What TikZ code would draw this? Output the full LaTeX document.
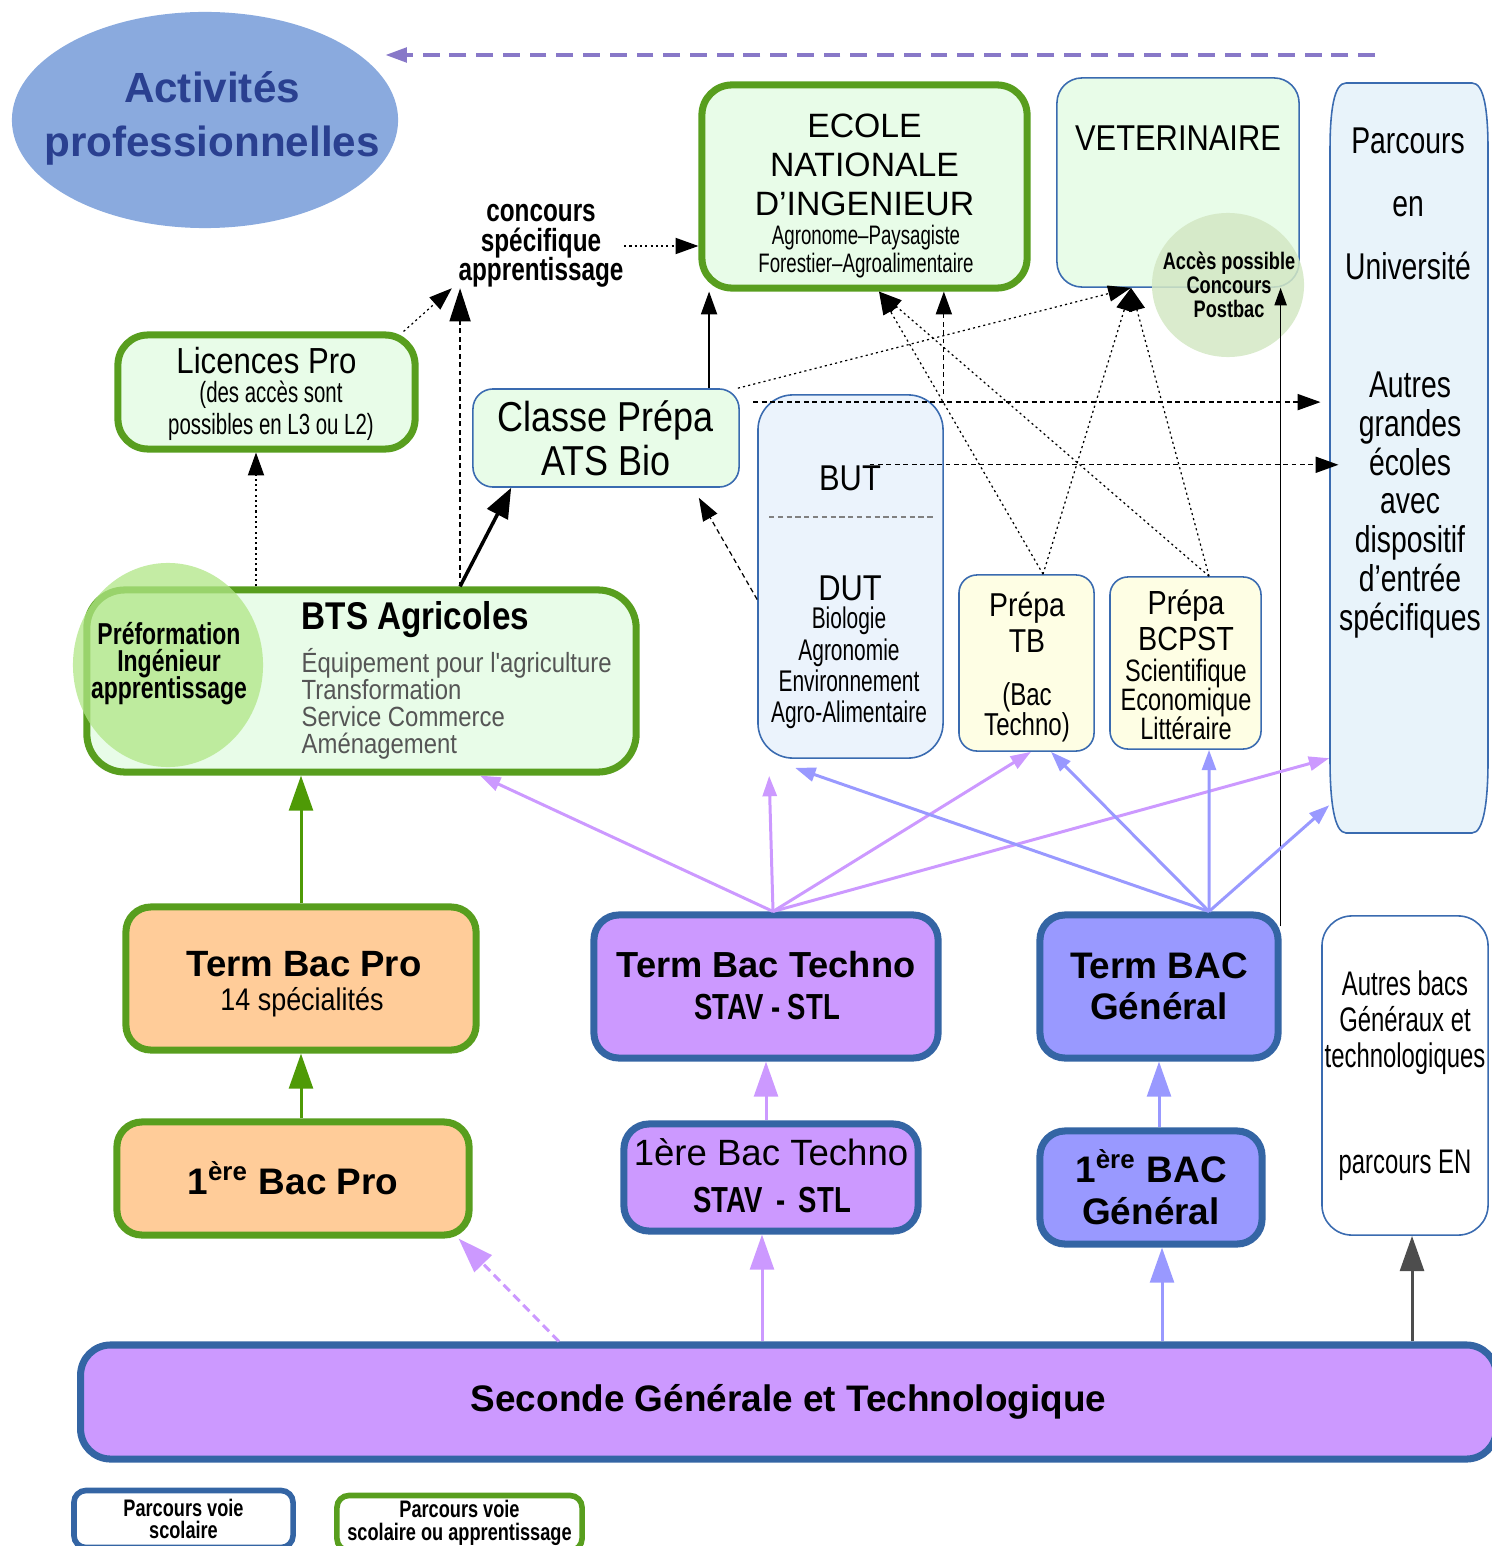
\documentclass[tikz,border=0pt]{standalone}
\usepackage{fontspec}
\setmainfont{Liberation Sans}
\newfontfamily\condA{Liberation Sans}[FakeStretch=0.86]
\newfontfamily\condB{Liberation Sans}[FakeStretch=0.76]
\newfontfamily\condC{Liberation Sans}[FakeStretch=0.70]
\usepackage{xcolor}
\usetikzlibrary{arrows.meta,shapes.geometric}

\definecolor{actfill}{HTML}{8AAADE}
\definecolor{acttext}{HTML}{2A4090}
\definecolor{topdash}{HTML}{8878C8}
\definecolor{grnbd}{HTML}{589E1E}
\definecolor{grnfill}{HTML}{E8FCE8}
\definecolor{bluebd}{HTML}{3465A4}
\definecolor{thinbd}{HTML}{3A6BB0}
\definecolor{butfill}{HTML}{EBF3FC}
\definecolor{univfill}{HTML}{E8F3FA}
\definecolor{prepfill}{HTML}{FEFEE4}
\definecolor{accfill}{HTML}{D4E8C4}
\definecolor{preffill}{HTML}{B0E686}
\definecolor{peach}{HTML}{FFCC99}
\definecolor{lilac}{HTML}{CC99FF}
\definecolor{peri}{HTML}{9999FF}
\definecolor{grnarrow}{HTML}{4E9A06}
\definecolor{darkgray}{HTML}{4D4D4D}
\definecolor{listgray}{HTML}{555555}

\newcommand\fsz[2]{\fontsize{#1}{#2}\selectfont\lineskiplimit=-20pt\relax}

\begin{document}
\begin{tikzpicture}[x=0.01cm, y=-0.01cm,
  box/.style={inner sep=0pt, align=center},
  greenbox/.style={box, draw=grnbd, line width=2pt, fill=grnfill, rounded corners=0.3cm},
  bluebox/.style={box, draw=bluebd, line width=2pt, rounded corners=0.25cm},
  thinbox/.style={box, draw=thinbd, line width=0.45pt, rounded corners=0.2cm},
  blob/.style={ellipse, inner sep=0pt},
  txt/.style={inner sep=0pt, align=center},
  dotarrow/.style={dash pattern=on 0.6pt off 0.9pt, line width=0.35pt, -{Triangle[length=6.5pt,width=4.6pt]}},
  dasharrow/.style={dash pattern=on 1.4pt off 1pt, line width=0.35pt, -{Triangle[length=6.5pt,width=4.6pt]}},
  bigtip/.style={-{Triangle[length=10pt,width=6.8pt]}},
  smalltip/.style={-{Triangle[length=5.8pt,width=4pt]}},
  techarrow/.style={lilac, line width=0.85pt, smalltip},
  genarrow/.style={peri, line width=0.85pt, smalltip},
  uparrow/.style={line width=0.85pt, bigtip},
]
\useasboundingbox (0,0) rectangle (1491,1546);

% upper part
\node[blob, fill=actfill, minimum width=3.86cm, minimum height=2.16cm] (act) at (205,120) {};
\node[txt, text=acttext, font=\bfseries\fsz{12}{15.4}] (acttxt) at (212,118) {Activités\\professionnelles};

\node[greenbox, minimum width=3.25cm, minimum height=2.03cm] (ecole) at (864.5,186.5) {};
\node[txt, font=\fsz{9.6}{11}] (ecoletxt) at (864.5,165) {ECOLE\\NATIONALE\\D’INGENIEUR};
\node[txt, font=\condC\fsz{7.6}{8}] (ecolesub) at (866,252) {Agronome–Paysagiste\\Forestier–Agroalimentaire};

\node[thinbox, fill=grnfill, minimum width=2.42cm, minimum height=2.09cm, rounded corners=0.25cm] (vet) at (1178,182.5) {};
\node[txt, font=\condA\fsz{10.2}{12}] (vettxt) at (1178,138) {VETERINAIRE};
\node[blob, fill=accfill, fill opacity=0.85, minimum width=1.52cm, minimum height=1.44cm] (acc) at (1228,285) {};
\node[txt, font=\condB\bfseries\fsz{6.8}{6.8}] (acctxt) at (1229,285) {Accès possible\\Concours\\Postbac};

% barrel shaped box, node kept for anchors
\draw[thinbd, fill=univfill, line width=0.45pt] (1346,83) -- (1472,83)
  .. controls (1484,83) and (1488,110) .. (1488,150) -- (1488,760)
  .. controls (1488,800) and (1484,833) .. (1472,833) -- (1346,833)
  .. controls (1334,833) and (1330,800) .. (1330,760) -- (1330,150)
  .. controls (1330,110) and (1334,83) .. (1346,83) -- cycle;
\node[box, minimum width=1.58cm, minimum height=7.5cm] (univ) at (1409,458) {};
\node[txt, font=\condB\fsz{10.6}{17.9}] (univtxt) at (1408,204) {Parcours\\en\\Université};
\node[txt, font=\condB\fsz{10.6}{11}] (autres) at (1410,505) {Autres\\grandes\\écoles\\avec\\dispositif\\d’entrée\\spécifiques};

\node[greenbox, minimum width=2.97cm, minimum height=1.14cm] (lic) at (266.5,392) {};
\node[txt, font=\condA\fsz{10.3}{12}] (lictitle) at (266.5,361) {Licences Pro};
\node[txt, font=\condC\fsz{8.3}{9.1}] (licnote) at (271,411) {(des accès sont\\possibles en L3 ou L2)};

\node[txt, font=\condB\bfseries\fsz{9.1}{8.4}] (conc) at (541,246) {concours\\spécifique\\apprentissage};

\node[thinbox, fill=grnfill, minimum width=2.66cm, minimum height=0.98cm, font=\condA\fsz{11.9}{12.5}] (ats) at (606,438) {Classe Prépa\\ATS Bio};

% middle part
\node[thinbox, fill=butfill, minimum width=1.85cm, minimum height=3.63cm, rounded corners=0.35cm] (but) at (850.5,576.5) {};
\node[txt, font=\condA\fsz{10.2}{12}] (butlbl) at (850,478) {BUT};
\draw[gray, dash pattern=on 1.5pt off 1pt, line width=0.3pt] (769,517) -- (936,517);
\node[txt, font=\condA\fsz{10.2}{12}] (dutlbl) at (850,588) {DUT};
\node[txt, font=\condC\fsz{8.5}{8.9}] (dutlist) at (849,668) {Biologie\\Agronomie\\Environnement\\Agro-Alimentaire};

\node[thinbox, fill=prepfill, minimum width=1.35cm, minimum height=1.76cm, rounded corners=0.18cm] (tb) at (1026.5,663) {};
\node[txt, font=\condA\fsz{9.4}{10.2}] (tbtxt) at (1027,622) {Prépa\\TB};
\node[txt, font=\condB\fsz{9}{8.5}] (tbnote) at (1027,712) {(Bac\\Techno)};

\node[thinbox, fill=prepfill, minimum width=1.51cm, minimum height=1.72cm, rounded corners=0.18cm] (bcpst) at (1185.5,663) {};
\node[txt, font=\condA\fsz{9.5}{10.2}] (bcpsttxt) at (1186,620) {Prépa\\BCPST};
\node[txt, font=\condB\fsz{8.8}{8.3}] (bcpstlist) at (1186,699.5) {Scientifique\\Economique\\Littéraire};

\node[greenbox, minimum width=5.49cm, minimum height=1.82cm, rounded corners=0.38cm] (bts) at (361.5,681) {};
\node[blob, fill=preffill, fill opacity=0.75, minimum width=1.9cm, minimum height=2.04cm] (pref) at (168,665) {};
\node[txt, font=\condB\bfseries\fsz{8.6}{7.7}] (preftxt) at (169,664) {Préformation\\Ingénieur\\apprentissage};
\node[txt, anchor=west, font=\condA\bfseries\fsz{11}{12}] (btstitle) at (301,620) {BTS Agricoles};
\node[txt, anchor=west, align=left, text=listgray, font=\condA\fsz{7.9}{7.7}] (btslist) at (301,703.5) {Équipement pour l'agriculture\\Transformation\\Service Commerce\\Aménagement};

% lower part
\node[greenbox, fill=peach, minimum width=3.5cm, minimum height=1.43cm, rounded corners=0.25cm] (termpro) at (301,978.5) {};
\node[txt, font=\bfseries\fsz{10.4}{12}] (termprotxt) at (304,964) {Term Bac Pro};
\node[txt, font=\condA\fsz{8.9}{10}] (termprosub) at (302,1002) {14 spécialités};
\node[greenbox, fill=peach, minimum width=3.52cm, minimum height=1.13cm, rounded corners=0.25cm, font=\bfseries\fsz{10.5}{12}] (prempro) at (293,1178.5) {1\textsuperscript{ère} Bac Pro};

\node[bluebox, fill=lilac, minimum width=3.44cm, minimum height=1.43cm] (termtech) at (766,986.5) {};
\node[txt, font=\bfseries\fsz{10.3}{12}] (termtechtxt) at (766,965) {Term Bac Techno};
\node[txt, font=\condB\bfseries\fsz{10.3}{12}] (termtechsub) at (767,1007) {STAV - STL};
\node[bluebox, fill=lilac, minimum width=2.94cm, minimum height=1.07cm] (premtech) at (771,1177.5) {};
\node[txt, font=\fsz{10.4}{12}] (premtechtxt) at (771,1152) {1ère Bac Techno};
\node[txt, font=\condB\bfseries\fsz{10.3}{12}] (premtechsub) at (772,1200) {STAV \,-\, STL};

\node[bluebox, fill=peri, minimum width=2.38cm, minimum height=1.43cm, font=\bfseries\fsz{10.5}{11.7}] (termgen) at (1159,986.5) {Term BAC\\Général};
\node[bluebox, fill=peri, minimum width=2.22cm, minimum height=1.13cm, font=\bfseries\fsz{10.5}{12}] (premgen) at (1151,1187.5) {1\textsuperscript{ère} BAC\\Général};

\node[thinbox, fill=white, minimum width=1.66cm, minimum height=3.19cm, rounded corners=0.3cm, font=\condC\fsz{9.7}{10.2}] (autresbacs) at (1405,1075.5) {Autres bacs\\Généraux et\\technologiques\\[20pt]parcours EN};

\node[bluebox, fill=lilac, minimum width=14.15cm, minimum height=1.14cm, rounded corners=0.3cm, font=\bfseries\fsz{10.5}{12}] (seconde) at (788.5,1402) {Seconde Générale et Technologique};

% legend
\node[bluebox, fill=white, line width=1.6pt, minimum width=2.19cm, minimum height=0.57cm, rounded corners=0.12cm, font=\condB\bfseries\fsz{6.8}{6.4}] (legscol) at (183.5,1519) {Parcours voie\\scolaire};
\node[greenbox, fill=white, line width=1.6pt, minimum width=2.45cm, minimum height=0.55cm, rounded corners=0.12cm, font=\condB\bfseries\fsz{6.8}{6.4}] (legapp) at (459.5,1523) {Parcours voie\\scolaire ou apprentissage};

% black connectors
\coordinate (topfrom) at (1375,55);
\coordinate (topto) at (385,55);
\draw[topdash, line width=1.3pt, dash pattern=on 4.8pt off 2.8pt, -{Triangle[length=6.2pt,width=4pt]}] (topfrom) -- (topto);

\draw[dotarrow] (conc.east) -- (conc.east -| ecole.west);
\draw[dotarrow] ([xshift=-0.15cm]lic.north east) -- ([xshift=-0.06cm]conc.south west);
\coordinate (btsout) at ([xshift=0.985cm]bts.north);
\draw[dasharrow, -{Triangle[length=9.4pt,width=6pt]}] (btsout) -- (btsout |- conc.south);
\draw[line width=1pt, -{Triangle[length=8.5pt,width=6.5pt]}] (btsout) -- ([xshift=0.39cm]ats.south west);
\coordinate (lictip) at ([xshift=-0.105cm]lic.south);
\draw[dotarrow] (bts.north -| lictip) -- (lictip);

\coordinate (atsup) at ([xshift=1.03cm]ats.north);
\draw[line width=0.4pt, -{Triangle[length=6.5pt,width=4.6pt]}] (atsup) -- (atsup |- ecole.south);
\coordinate (vettip) at ([xshift=-0.47cm]vet.south);
\coordinate (ecoletip) at ([xshift=0.145cm]ecole.south);
\draw[dotarrow] ([xshift=-0.02cm]ats.north east) -- (vettip);
\draw[dotarrow] ([xshift=0.165cm]tb.north) -- (ecoletip);
\draw[dotarrow] ([xshift=0.165cm]tb.north) -- (vettip);
\draw[dotarrow] ([xshift=0.235cm]bcpst.north) -- (ecoletip);
\draw[dotarrow] ([xshift=0.235cm]bcpst.north) -- (vettip);

\coordinate (dashA) at ([shift={(-0.04cm,-0.08cm)}]but.north west);
\draw[dasharrow, shorten >=2.5pt] (dashA) -- (dashA -| univ.west);
\draw[dasharrow] (but.north east) -- (but.north east |- ecole.south);
\draw[dasharrow] ([xshift=-0.12cm]butlbl.north east) -- (butlbl.north east -| autres.west);
\draw[dasharrow] ([yshift=-0.23cm]but.west) -- ([shift={(-0.41cm,-0.1cm)}]ats.south east);

\coordinate (postfrom) at ([shift={(-0.01cm,-0.15cm)}]termgen.north east);
\draw[line width=0.4pt, -{Triangle[length=5pt,width=3.5pt]}] (postfrom) -- (postfrom |- vet.south);

% coloured connectors
\coordinate (techout) at ([xshift=0.07cm]termtech.north);
\draw[techarrow] (techout) -- ([xshift=1.185cm]bts.south);
\draw[techarrow] (techout) -- ([shift={(0.12cm,-0.17cm)}]but.south west);
\draw[techarrow] (techout) -- ([xshift=0.045cm]tb.south);
\draw[techarrow] (techout) -- ([yshift=-3cm]univ.west);

\coordinate (genout) at ([xshift=0.5cm]termgen.north);
\draw[genarrow] (genout) -- ([shift={(0.38cm,-0.09cm)}]but.south west);
\draw[genarrow] (genout) -- ([xshift=0.245cm]tb.south);
\draw[genarrow] (genout) -- ([xshift=0.235cm]bcpst.south);
\draw[genarrow] (genout) -- ([yshift=-3.47cm]univ.west);

\draw[uparrow, grnarrow] (termpro.north) -- (termpro.north |- bts.south);
\draw[uparrow, grnarrow] (termpro.south |- prempro.north) -- (termpro.south);
\draw[uparrow, lilac] (premtech.north -| termtech.south) -- (termtech.south);
\draw[uparrow, peri] (termgen.south |- premgen.north) -- (termgen.south);

\draw[uparrow, lilac, dash pattern=on 2.5pt off 1.5pt] ([xshift=-2.295cm]seconde.north) -- ([xshift=-0.14cm]prempro.south east);
\coordinate (techin) at ([xshift=-0.09cm]premtech.south);
\draw[uparrow, lilac] (techin |- seconde.north) -- (techin);
\coordinate (genin) at ([xshift=0.11cm]premgen.south);
\draw[uparrow, peri] (genin |- seconde.north) -- (genin);
\coordinate (autin) at ([xshift=0.07cm]autresbacs.south);
\draw[uparrow, darkgray] (autin |- seconde.north) -- (autin);
\end{tikzpicture}
\end{document}
